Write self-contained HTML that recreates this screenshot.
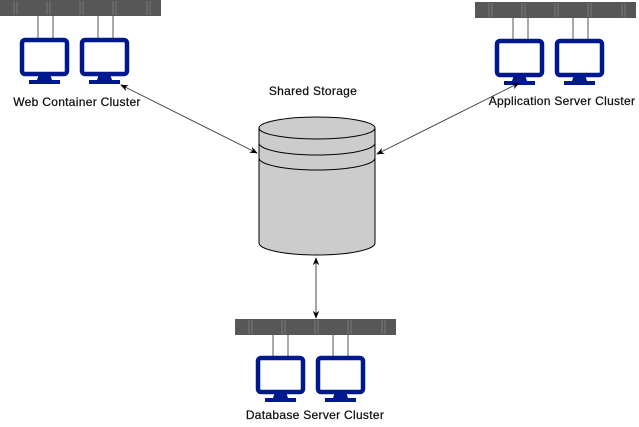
<!DOCTYPE html>
<html><head><style>body{margin:0;background:#fff}svg{display:block}</style></head><body>
<svg width="639" height="427" xmlns="http://www.w3.org/2000/svg" font-family="Liberation Sans, sans-serif">
<defs>
<g id="mon">
<rect x="2" y="2" width="45" height="34" rx="3" fill="#fff" stroke="#00188D" stroke-width="4.5"/>
<path d="M19 36 h11 l2 6 h8 v4 h-31 v-4 h8 z" fill="#00188D"/>
</g>
<g id="bar">
<rect x="0" y="0" width="161" height="16" fill="#575757"/>
<g stroke="#7a7a7a" stroke-width="1">
<path d="M14 1v14M17 1v14M47 1v14M50 1v14M80 1v14M83 1v14M113 1v14M116 1v14M147 1v14M150 1v14"/>
</g>
</g>
<marker id="ah" viewBox="0 0 10 10" refX="9" refY="5" markerWidth="8" markerHeight="8" orient="auto-start-reverse"><path d="M0 1 L10 5 L0 9 L3 5z" fill="#000"/></marker>
</defs>
<g font-size="12" fill="#111" stroke="#111" stroke-width="0.25" letter-spacing="0.3">
<text x="77" y="106" text-anchor="middle">Web Container Cluster</text>
<text x="562" y="105" text-anchor="middle">Application Server Cluster</text>
<text x="315" y="419" text-anchor="middle">Database Server Cluster</text>
<text x="313" y="95" text-anchor="middle">Shared Storage</text>
</g>
<g transform="translate(0,0)"><use href="#bar"/></g>
<g stroke="#aaa" stroke-width="2" fill="none"><path d="M38 16v23M53 16v23M98 16v23M113 16v23"/></g>
<use href="#mon" x="20" y="38"/><use href="#mon" x="80" y="38"/>

<g transform="translate(475,2)"><use href="#bar"/></g>
<g stroke="#aaa" stroke-width="2" fill="none"><path d="M513 18v22M528 18v22M573 18v22M588 18v22"/></g>
<use href="#mon" x="495" y="39"/><use href="#mon" x="555" y="39"/>

<g transform="translate(235,319)"><use href="#bar"/></g>
<g stroke="#aaa" stroke-width="2" fill="none"><path d="M273 335v22M288 335v22M333 335v22M348 335v22"/></g>
<use href="#mon" x="256" y="356"/><use href="#mon" x="316" y="356"/>

<g stroke="#000" stroke-width="1" fill="#cccccc">
<path d="M259 128 v115 a58 12 0 0 0 116 0 v-115"/>
<ellipse cx="317" cy="128" rx="58" ry="11"/>
<path d="M259 128 v15 a58 12 0 0 0 116 0 v-15 M259 143 v15 a58 12 0 0 0 116 0 v-15" fill="none"/>
</g>
<g stroke="#444" stroke-width="1" fill="none">
<line x1="121" y1="85" x2="257" y2="153" marker-start="url(#ah)" marker-end="url(#ah)"/>
<line x1="377" y1="154" x2="519" y2="83" marker-start="url(#ah)" marker-end="url(#ah)"/>
<line x1="316" y1="258" x2="316" y2="318" marker-start="url(#ah)" marker-end="url(#ah)"/>
</g>
</svg>
</body></html>
